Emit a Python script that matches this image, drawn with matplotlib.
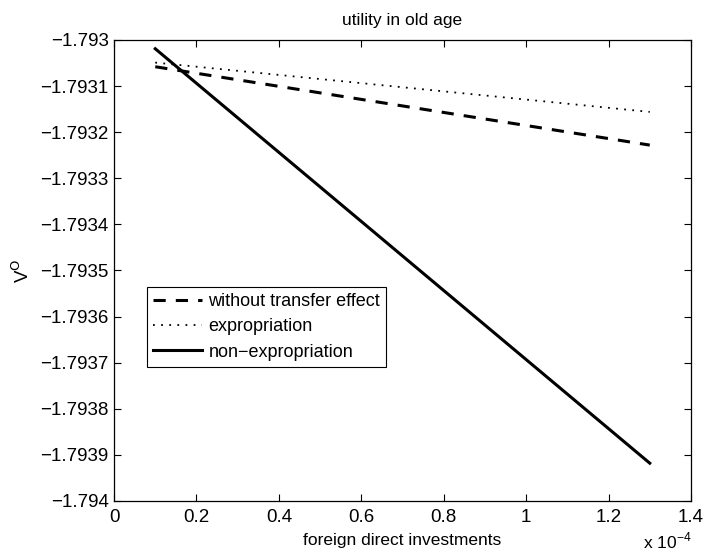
import numpy as np
import matplotlib
matplotlib.use('Agg')
import matplotlib.pyplot as plt
from matplotlib.ticker import FuncFormatter, MultipleLocator

plt.rcParams['font.family'] = ['Liberation Sans', 'DejaVu Sans']
plt.rcParams['font.size'] = 12.5

# data
fdi = np.array([0.1e-4, 1.3e-4])
v_without = np.array([-1.793058, -1.793228])
v_exprop = np.array([-1.793049, -1.793156])
v_nonexprop = np.array([-1.793019, -1.793918])

fig = plt.figure(figsize=(7.04, 5.54), dpi=100)
ax = fig.add_axes([0.162, 0.0957, 0.8195, 0.8321])

ax.plot(fdi, v_without, color='k', lw=2.2, linestyle=(0, (4, 3.3)), label='without transfer effect')
ax.plot(fdi, v_exprop, color='k', lw=1.3, linestyle=(0, (1, 3.5)), label='expropriation')
ax.plot(fdi, v_nonexprop, color='k', lw=2.2, label='non\u2212expropriation')

ax.set_xlim(0, 1.4e-4)
ax.set_ylim(-1.794, -1.793)
ax.xaxis.set_major_locator(MultipleLocator(0.2e-4))
ax.yaxis.set_major_locator(MultipleLocator(0.0001))
ax.xaxis.set_major_formatter(FuncFormatter(lambda v, p: ('%g' % round(v / 1e-4, 4))))
ax.yaxis.set_major_formatter(FuncFormatter(
    lambda v, p: ('%.4f' % v).rstrip('0').rstrip('.').replace('-', '\u2212')))
ax.tick_params(direction='in', length=5, width=0.8, top=True, right=True, labelsize=13.5)
ax.tick_params(axis='y', pad=4)
ax.tick_params(axis='x', pad=6)
for s in ax.spines.values():
    s.set_linewidth(0.9)

ax.set_title('utility in old age', fontsize=12.5, pad=11)
ax.set_xlabel('foreign direct investments', labelpad=5)
ax.set_ylabel('V$^{\\mathrm{O}}$', labelpad=5, fontsize=13.5)
fig.text(0.913, 0.01, 'x 10$^{\\mathregular{\u22124}}$', fontsize=12.5)

leg = ax.legend(loc='lower left', bbox_to_anchor=(0.057, 0.291), borderaxespad=0,
                fancybox=False, edgecolor='k', framealpha=1, handlelength=2.7,
                labelspacing=0.45, handletextpad=0.35, borderpad=0.35, fontsize=13)
leg.get_frame().set_linewidth(0.8)

plt.savefig('out.png', dpi=100)
